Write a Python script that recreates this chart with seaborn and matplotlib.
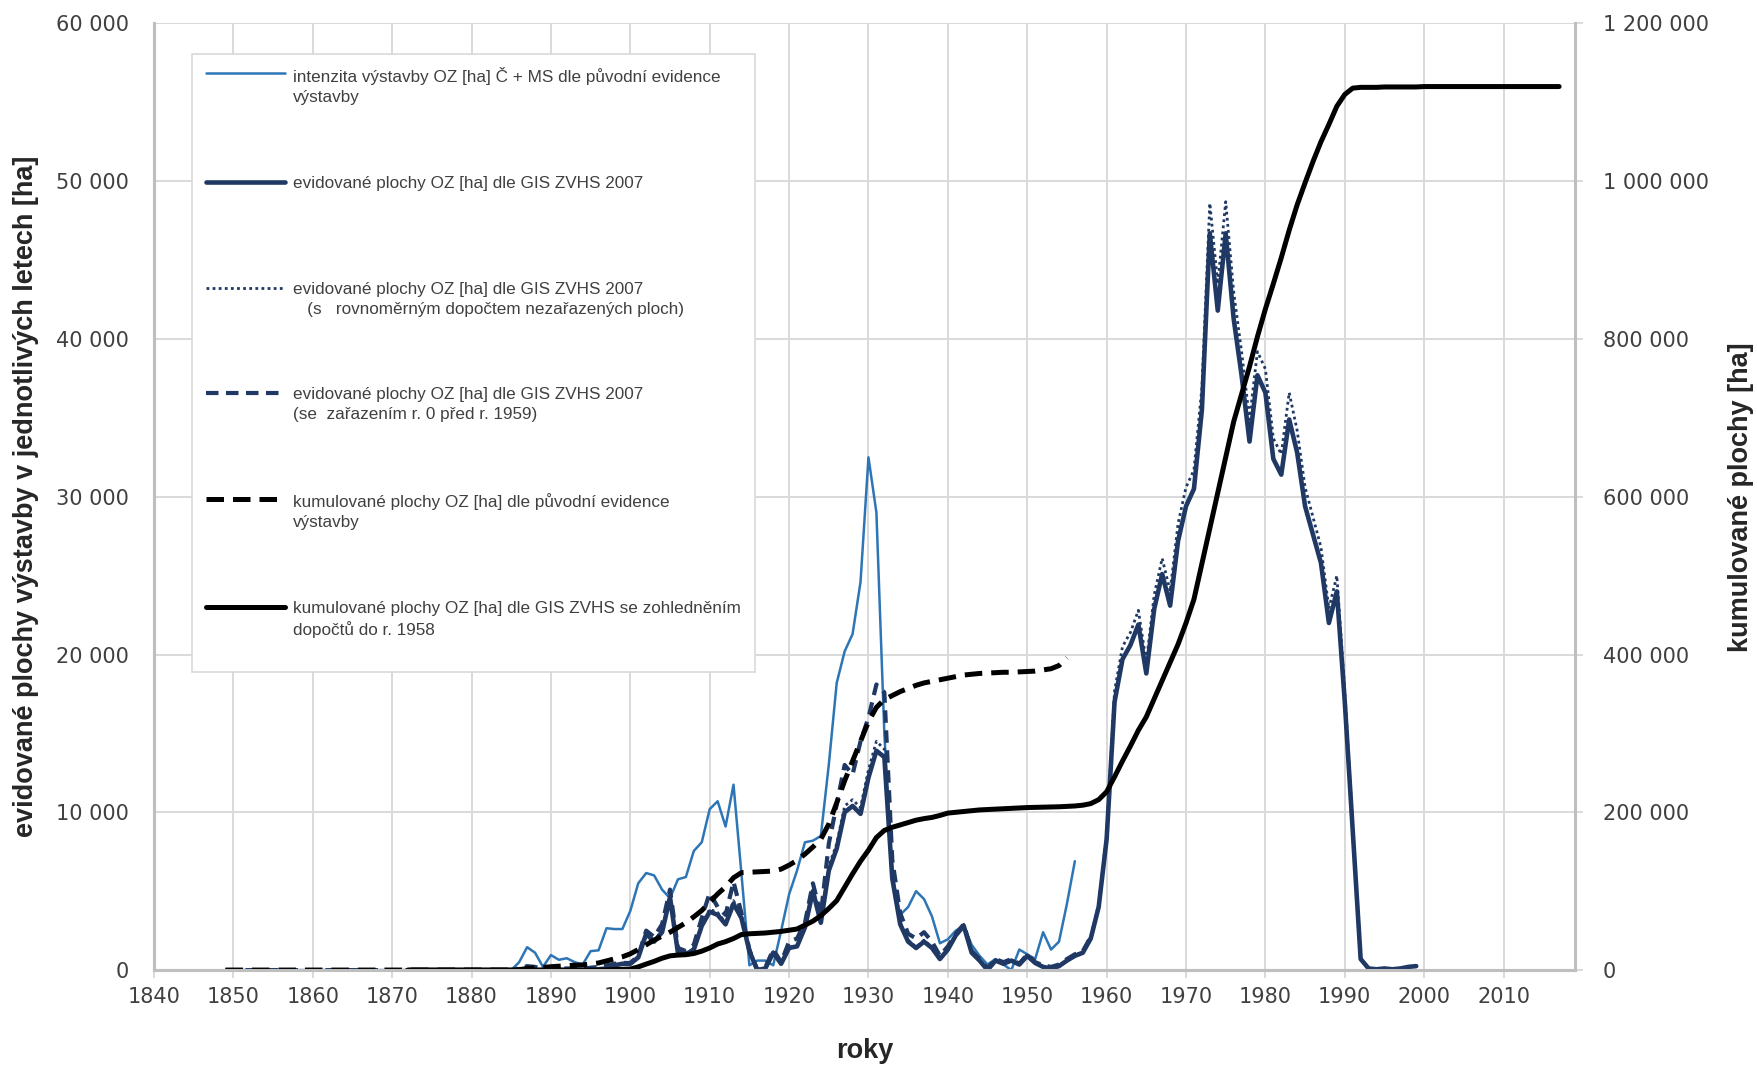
import numpy as np
import matplotlib
matplotlib.use("Agg")
import matplotlib.pyplot as plt
import seaborn as sns
from matplotlib.ticker import FuncFormatter, MultipleLocator
from matplotlib.offsetbox import HPacker

# -------------------------
# data (ha)
# -------------------------
# intenzita výstavby dle původní evidence, from 1849
intenzita_start = 1849
intenzita = [0] * 37 + [
    500, 1450, 1100, 200, 950, 650, 750, 500, 350, 1200, 1250, 2650, 2600, 2600,      # 1886-1899
    3750, 5500, 6150, 6000, 5100, 4550, 5750, 5900, 7550, 8100,                         # 1900-1909
    10200, 10700, 9100, 11750, 6100, 300, 600, 600, 300, 2500,                          # 1910-1919
    4800, 6300, 8100, 8200, 8500, 13000, 18200, 20200, 21300, 24600,                    # 1920-1929
    32500, 29000, 15000, 6000, 3500, 4000, 5000, 4500, 3400, 1700,                      # 1930-1939
    1950, 2500, 2800, 1600, 900, 350, 700, 350, 0, 1300,                                # 1940-1949
    1000, 700, 2400, 1300, 1800, 4200, 6900]                                            # 1950-1956

# evidované plochy dle GIS ZVHS 2007, from 1872
gis_start = 1872
gis = [0] * 24 + [
    50, 100, 300, 400,                                                                  # 1896-1899
    400, 800, 2300, 1800, 2400, 4600, 1100, 1000, 1300, 2800,                           # 1900-1909
    3700, 3500, 2900, 4200, 3300, 1200, 0, 100, 1100, 400,                              # 1910-1919
    1400, 1500, 2700, 5000, 3000, 6300, 7700, 10000, 10400, 9900,                       # 1920-1929
    12200, 13900, 13500, 5800, 2900, 1800, 1400, 1800, 1400, 700,                       # 1930-1939
    1300, 2200, 2800, 1100, 600, 0, 600, 400, 600, 350,                                 # 1940-1949
    900, 450, 200, 100, 250, 600, 900, 1100, 2000, 4000,                                # 1950-1959
    8300, 17000, 19700, 20600, 21900, 18800, 22900, 25100, 23100, 27200,                # 1960-1969
    29400, 30500, 35500, 46700, 41800, 46700, 41300, 37700, 33500, 37700,               # 1970-1979
    36600, 32400, 31400, 34900, 32800, 29400, 27600, 25800, 22000, 24000,               # 1980-1989
    17000, 8800, 700, 100, 50, 100, 50, 100, 200, 250]                                  # 1990-1999

# GIS ZVHS 2007 s rovnoměrným dopočtem, from 1872
gis_dopocet_start = 1872
gis_dopocet = [0] * 24 + [
    50, 100, 300, 400,
    450, 850, 2400, 1900, 2500, 4800, 1150, 1050, 1350, 2900,
    3850, 3650, 3000, 4400, 3450, 1250, 0, 100, 1150, 400,
    1450, 1550, 2800, 5200, 3100, 6600, 8000, 10400, 10800, 10300,
    12700, 14500, 14000, 6000, 3000, 1900, 1450, 1900, 1450, 750,
    1350, 2300, 2900, 1150, 650, 0, 650, 400, 650, 350,
    950, 450, 200, 100, 250, 650, 950, 1150, 2100, 4200,
    8600, 17700, 20500, 21400, 22800, 19500, 23800, 26100, 24000, 28300,
    30600, 31700, 36900, 48600, 43500, 48700, 43000, 39200, 34900, 39200,
    38100, 33700, 32700, 36600, 34200, 30600, 28700, 26800, 22900, 25000,
    17700, 9100, 700, 100, 50, 100, 50, 100, 200, 250]

# GIS ZVHS 2007 se zařazením r. 0 před r. 1959, from 1849
gis_r0_start = 1849
gis_r0 = [0] * 37 + [
    100, 250, 200, 50, 150, 100, 100, 100, 50, 150, 200, 300, 400, 450,                 # 1886-1899
    450, 900, 2500, 2100, 2900, 5100, 1400, 1200, 1600, 3300,
    4900, 4000, 3500, 5600, 3600, 1300, 0, 150, 1300, 500,
    1800, 2000, 3000, 5500, 3500, 8000, 10500, 13000, 12400, 14500,
    16000, 18100, 17600, 7000, 3600, 2300, 2000, 2400, 1800, 900,
    1500, 2300, 2900, 1200, 700, 100, 700, 500, 700, 400,
    1000, 500, 300, 200, 350, 700, 1000, 1200, 2100]                                    # 1950-1958

# kumulované plochy dle původní evidence (right axis), from 1849
kum_puvodni_start = 1849
kum_puvodni = [0] * 37 + [
    500, 2000, 3000, 3300, 4200, 4900, 5600, 6100, 6500, 7700, 9000, 11600, 14200, 16800,
    20600, 26000, 32000, 38000, 43000, 48000, 54000, 60000, 67500, 75500,
    86000, 96500, 105500, 117000, 123500, 124000, 124500, 125000, 125500, 128000,
    133000, 139000, 147000, 156000, 166000, 185000, 212000, 240000, 265000, 290000,
    315000, 333000, 343000, 348000, 353000, 357000, 361000, 364000, 366000, 368000,
    370000, 372000, 374000, 375000, 376000, 376500, 377000, 377500, 377500, 378000,
    378500, 379000, 380500, 382000, 386000, 396000]

# kumulované plochy dle GIS ZVHS s dopočty (right axis), from 1872
kum_gis_start = 1872
kum_gis = [0] * 25 + [
    300, 500, 800,                                                                      # 1897-1899
    1300, 4000, 7600, 11000, 15000, 18000, 19000, 19500, 21000, 24000,
    28000, 33000, 36000, 40000, 45000, 46000, 46500, 47000, 48000, 49000,
    50500, 52000, 57000, 62000, 69000, 78000, 88000, 105000, 122000, 138000,
    152000, 168000, 177000, 181000, 184000, 187000, 190000, 192000, 193500, 196000,
    199000, 200000, 201000, 202000, 203000, 203500, 204000, 204500, 205000, 205500,
    206000, 206300, 206500, 206700, 207000, 207500, 208000, 209000, 211000, 216000,
    226000, 245000, 265000, 284000, 304000, 321000, 344000, 367000, 390000, 413000,
    440000, 470000, 515000, 560000, 605000, 650000, 695000, 730000, 765000, 803000,
    838000, 870000, 903000, 938000, 970000, 998000, 1025000, 1050000, 1072000, 1095000,
    1110000, 1118000, 1119000, 1119000, 1119000, 1119500, 1119500, 1119500, 1119500, 1119500,
    1120000, 1120000, 1120000, 1120000, 1120000, 1120000, 1120000, 1120000, 1120000, 1120000,
    1120000, 1120000, 1120000, 1120000, 1120000, 1120000, 1120000, 1120000]              # to 2017

labels = [
    "intenzita výstavby OZ [ha] Č + MS dle původní evidence\nvýstavby",
    "evidované plochy OZ [ha] dle GIS ZVHS 2007\n ",
    "evidované plochy OZ [ha] dle GIS ZVHS 2007\n   (s   rovnoměrným dopočtem nezařazených ploch)",
    "evidované plochy OZ [ha] dle GIS ZVHS 2007\n(se  zařazením r. 0 před r. 1959)",
    "kumulované plochy OZ [ha] dle původní evidence\nvýstavby",
    "kumulované plochy OZ [ha] dle GIS ZVHS se zohledněním\ndopočtů do r. 1958\n ",
]


def yrs(start, vals):
    return np.arange(start, start + len(vals))


# -------------------------
# figure
# -------------------------
sns.set_style("white")
plt.rcParams['font.family'] = ['DejaVu Sans']

LIGHT = "#2E75B6"
NAVY = "#1F3864"
GRID = "#D9D9D9"
SPINE = "#BFBFBF"
TICKC = "#404040"

fig = plt.figure(figsize=(17.58, 10.66), dpi=100)
ax = fig.add_axes([0.0876, 0.090, 0.8083, 0.888])
ax2 = ax.twinx()

sns.lineplot(x=yrs(intenzita_start, intenzita), y=intenzita, ax=ax,
             color=LIGHT, linewidth=1.8, label=labels[0], legend=False)
sns.lineplot(x=yrs(gis_start, gis), y=gis, ax=ax,
             color=NAVY, linewidth=3.3, label=labels[1], legend=False)
sns.lineplot(x=yrs(gis_dopocet_start, gis_dopocet), y=gis_dopocet, ax=ax,
             color=NAVY, linewidth=2.0, linestyle=(0, (1, 1.2)), label=labels[2], legend=False)
sns.lineplot(x=yrs(gis_r0_start, gis_r0), y=gis_r0, ax=ax,
             color=NAVY, linewidth=3.0, linestyle=(0, (3, 1.8)), label=labels[3], legend=False)
sns.lineplot(x=yrs(kum_puvodni_start, kum_puvodni), y=kum_puvodni, ax=ax2,
             color="black", linewidth=3.6, linestyle=(0, (3.5, 1.8)), label=labels[4], legend=False)
sns.lineplot(x=yrs(kum_gis_start, kum_gis), y=kum_gis, ax=ax2,
             color="black", linewidth=3.6, label=labels[5], legend=False)

# axes ranges / ticks
ax.set_xlim(1840, 2019)
ax.set_ylim(0, 60000)
ax2.set_ylim(0, 1200000)
ax.xaxis.set_major_locator(MultipleLocator(10))
ax.yaxis.set_major_locator(MultipleLocator(10000))
ax2.yaxis.set_major_locator(MultipleLocator(200000))
fmt = FuncFormatter(lambda v, p: f"{v:,.0f}".replace(",", " "))
ax.yaxis.set_major_formatter(fmt)
ax2.yaxis.set_major_formatter(fmt)

ax.grid(True, color=GRID, linewidth=1.4)
ax.set_axisbelow(True)
ax2.grid(False)

for s in ["top"]:
    ax.spines[s].set_visible(False)
    ax2.spines[s].set_visible(False)
for s in ["left", "bottom", "right"]:
    ax.spines[s].set_color(SPINE)
    ax.spines[s].set_linewidth(2.2)
    ax2.spines[s].set_color(SPINE)
    ax2.spines[s].set_linewidth(2.2)

ax.tick_params(axis="x", length=6, width=1.4, color=GRID, pad=6,
               labelsize=15, labelcolor=TICKC, direction="out", bottom=True)
ax.tick_params(axis="y", length=0, pad=18, labelsize=15, labelcolor=TICKC)
ax2.tick_params(axis="y", length=6, width=1.4, color=GRID, pad=14,
                labelsize=15, labelcolor=TICKC, direction="out", right=True)

lab_font = dict(fontsize=19.5, fontweight="bold", family=["Liberation Sans", "DejaVu Sans"])
ax.set_xlabel("roky", **lab_font)
ax.set_ylabel("evidované plochy výstavby v jednotlivých letech [ha]", **lab_font)
ax2.set_ylabel("kumulované plochy [ha]", **lab_font)
ax.xaxis.set_label_coords(0.5, -0.072)
ax.yaxis.set_label_coords(-0.081, 0.5)
ax2.yaxis.set_label_coords(1.108, 0.5)

# legend
h1, l1 = ax.get_legend_handles_labels()
h2, l2 = ax2.get_legend_handles_labels()
leg = ax2.legend(h1 + h2, l1 + l2, loc="upper left", bbox_to_anchor=(0.027, 0.968),
                 frameon=True, fancybox=False, framealpha=1, edgecolor=GRID,
                 prop={"family": "Liberation Sans", "size": 12.3},
                 handlelength=4.6, handletextpad=0.5, labelspacing=4.15,
                 borderpad=0.8, borderaxespad=0)
leg.get_frame().set_linewidth(1.2)
for t in leg.get_texts():
    t.set_color(TICKC)
    t.set_linespacing(1.4)
for hp in leg.findobj(HPacker):
    hp.align = "top"

plt.savefig("out.png", dpi=100)
